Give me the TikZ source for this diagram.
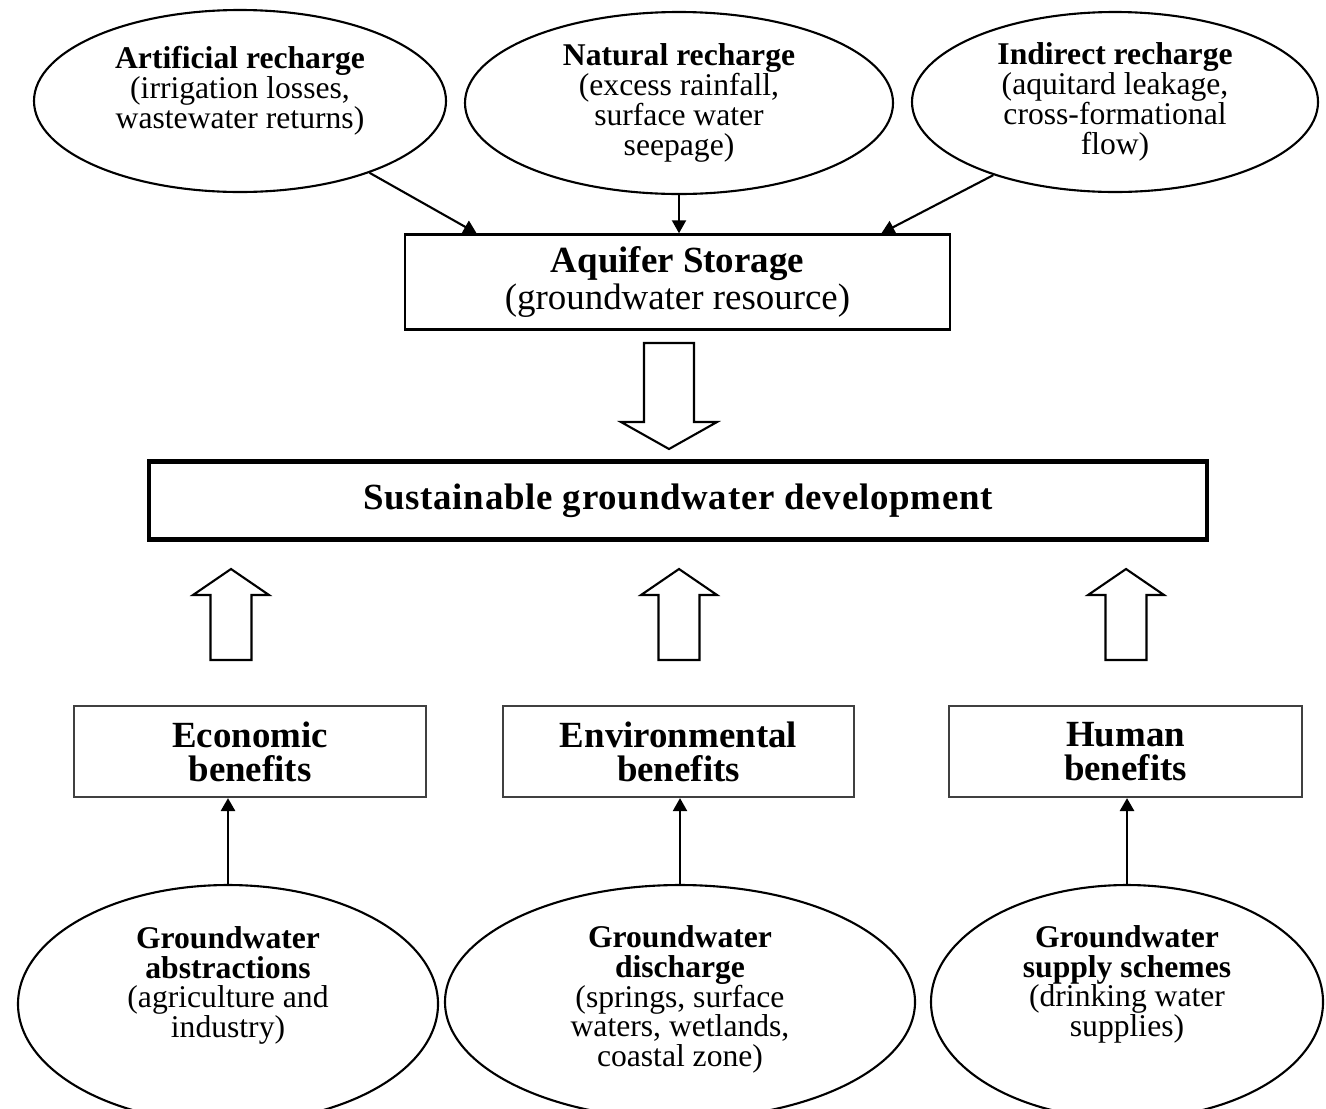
\documentclass[tikz,border=0pt]{standalone}
\usepackage{fontspec}
\setmainfont{Liberation Serif}
\usetikzlibrary{shapes.geometric,arrows.meta}

\begin{document}
\begin{tikzpicture}[
  oval/.style={ellipse,draw,line width=0.6pt,inner sep=0pt,align=center,font=\fontsize{9}{8.5}\selectfont},
  benbox/.style={rectangle,draw=black!75,line width=0.6pt,minimum width=3.52cm,minimum height=0.91cm,align=center,font=\fontsize{10.5}{9.7}\selectfont\bfseries},
  feed/.style={-{Triangle[length=1.3mm,width=1.4mm]},line width=0.6pt},
  hollow/.style={draw,line width=0.6pt,fill=white}
]
\clip (0,0) rectangle (13.26,-11.08);

% recharge
\node[oval,minimum width=4.12cm,minimum height=1.82cm,text depth=0.28cm] (art) at (2.40,-1.01) {\textbf{Artificial recharge}\\(irrigation losses,\\wastewater returns)};
\node[oval,minimum width=4.28cm,minimum height=1.82cm] (nat) at (6.79,-1.03) {\textbf{Natural recharge}\\(excess rainfall,\\surface water\\seepage)};
\node[oval,minimum width=4.06cm,minimum height=1.80cm] (ind) at (11.15,-1.02) {\textbf{Indirect recharge}\\(aquitard leakage,\\cross-formational\\flow)};

\node[draw,line width=0.8pt,minimum width=5.45cm,minimum height=0.90cm,align=center,font=\fontsize{10.5}{9.5}\selectfont] (aq) at (6.775,-2.82) {\textbf{Aquifer Storage}\\(groundwater resource)};

\draw[feed] (art.-29) -- ([xshift=0.73cm]aq.north west);
\draw[feed] (nat.south) -- (nat.south |- aq.north);
\draw[feed] (ind.211) -- ([xshift=-0.70cm]aq.north east);

\draw[hollow] (6.44,-3.43) -- (6.94,-3.43) -- (6.94,-4.22) -- (7.17,-4.22) -- (6.69,-4.49) -- (6.21,-4.22) -- (6.44,-4.22) -- cycle;

\node[draw,line width=1.4pt,minimum width=10.58cm,minimum height=0.78cm,font=\fontsize{10.5}{12}\selectfont\bfseries\addfontfeature{LetterSpace=2}] (sus) at (6.78,-5.005) {Sustainable groundwater development};

%\draw (sus.south) -- ++(0,-1);
\foreach \x in {2.31,6.79,11.26}
  \draw[hollow] (\x-0.205,-6.60) -- (\x-0.205,-5.95) -- (\x-0.38,-5.95) -- (\x,-5.69) -- (\x+0.38,-5.95) -- (\x+0.205,-5.95) -- (\x+0.205,-6.60) -- cycle;

% benefits
\node[benbox] (eco) at (2.50,-7.515) {Economic\\benefits};
\node[benbox,minimum width=3.51cm] (env) at (6.785,-7.515) {Environmental\\benefits};
\node[benbox,minimum width=3.53cm] (hum) at (11.255,-7.515) {Human\\benefits};

\node[oval,minimum width=4.20cm,minimum height=2.38cm,text depth=0.44cm] (gab) at (2.28,-10.04) {\textbf{Groundwater}\\\textbf{abstractions}\\(agriculture and\\industry)};
\node[oval,minimum width=4.70cm,minimum height=2.34cm,text depth=0.12cm] (gdis) at (6.80,-10.02) {\textbf{Groundwater}\\\textbf{discharge}\\(springs, surface\\waters, wetlands,\\coastal zone)};
\node[oval,minimum width=3.92cm,minimum height=2.34cm,text depth=0.42cm] (gsup) at (11.27,-10.02) {\textbf{Groundwater}\\\textbf{supply schemes}\\(drinking water\\supplies)};

\draw[feed,line width=0.8pt] (gab.north) -- (gab.north |- eco.south);
\draw[feed] (gdis.north) -- (gdis.north |- env.south);
\draw[feed,line width=0.8pt] (gsup.north) -- (gsup.north |- hum.south);
\end{tikzpicture}
\end{document}
